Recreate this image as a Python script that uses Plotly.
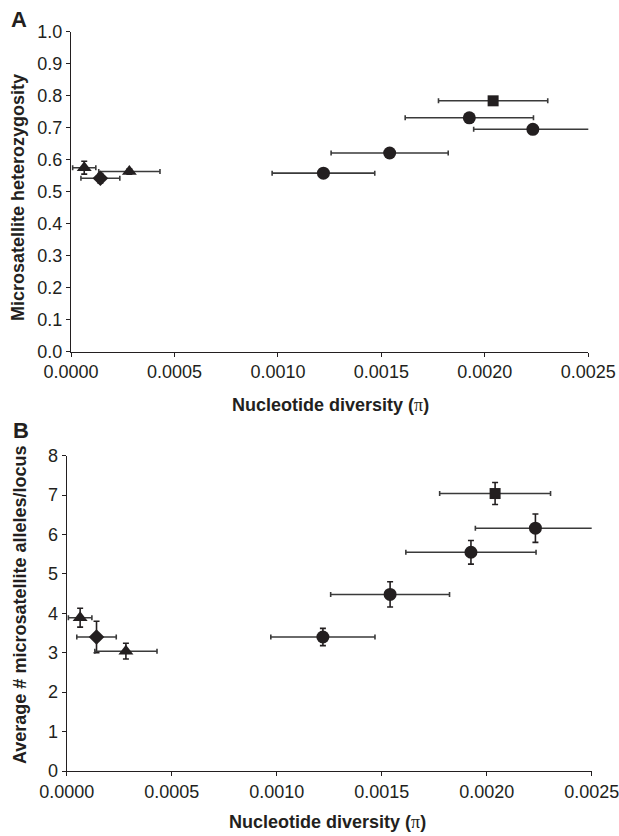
import plotly.graph_objects as go

# ---- data ----
groups = ["tri1", "diamond", "tri2", "circ_d", "circ_c", "circ_a", "square", "circ_b"]
symbols = ["triangle-up", "diamond", "triangle-up", "circle", "circle", "circle", "square", "circle"]
pi_vals = [0.000064, 0.000142, 0.000282, 0.00122, 0.00154, 0.001925, 0.00204, 0.002232]
pi_err = [0.000056, 0.000094, 0.000148, 0.000248, 0.000283, 0.00031, 0.000264, 0.000286]

het_vals = [0.575, 0.542, 0.563, 0.558, 0.621, 0.731, 0.784, 0.695]
het_err = [0.02, 0.015, 0.008, 0.008, 0.008, 0.008, 0.008, 0.008]

alleles_vals = [3.89, 3.40, 3.04, 3.40, 4.48, 5.55, 7.04, 6.16]
alleles_err = [0.24, 0.40, 0.20, 0.22, 0.32, 0.30, 0.28, 0.36]

x_ticks = [0.0, 0.0005, 0.0010, 0.0015, 0.0020, 0.0025]

# ---- style ----
W, H = 619, 836
ink = "#231f20"
bar_col = "#3a3a3a"
sizes = {"triangle-up": 13, "diamond": 12, "circle": 13, "square": 11}
msize = [sizes[s] for s in symbols]
tick_font = dict(family="Liberation Sans, Arial, sans-serif", size=18, color=ink)
title_font = dict(family="Liberation Sans, Arial, sans-serif", size=18, color=ink)


def px_x(p):
    return p / W


def px_y(p):
    return 1 - p / H


fig = go.Figure()
for xa, ya, yv, ye in [("x", "y", het_vals, het_err), ("x2", "y2", alleles_vals, alleles_err)]:
    # error bars first (drawn underneath)
    fig.add_trace(go.Scatter(
        x=pi_vals, y=yv, mode="markers", xaxis=xa, yaxis=ya,
        marker=dict(size=1, color="rgba(0,0,0,0)"),
        error_x=dict(type="data", array=pi_err, color=bar_col, thickness=1.6, width=2.5),
        error_y=dict(type="data", array=ye, color=ink, thickness=1.6, width=3),
        cliponaxis=False, showlegend=False, hoverinfo="skip",
    ))
    # markers on top
    fig.add_trace(go.Scatter(
        x=pi_vals, y=yv, mode="markers", xaxis=xa, yaxis=ya,
        marker=dict(symbol=symbols, size=msize, color=ink, opacity=1, line=dict(width=0)),
        cliponaxis=False, showlegend=False, hoverinfo="skip",
    ))

axis_common = dict(
    showline=True, linecolor=ink, linewidth=1.3, showgrid=False, zeroline=False,
    ticks="outside", ticklen=4, tickwidth=1.3, tickcolor=ink, tickfont=tick_font,
    automargin=False,
)

fig.update_layout(
    width=W, height=H,
    margin=dict(l=0, r=0, t=0, b=0),
    paper_bgcolor="white", plot_bgcolor="white",
    xaxis=dict(domain=[px_x(71), px_x(588.3)], range=[0, 0.0025], anchor="y",
               tickvals=x_ticks, tickformat=".4f", ticklabeloverflow="allow", **axis_common),
    yaxis=dict(domain=[px_y(351.7), px_y(31.7)], range=[0, 1.0], anchor="x",
               dtick=0.1, tick0=0, tickformat=".1f", **axis_common),
    xaxis2=dict(domain=[px_x(66.7), px_x(591.7)], range=[0, 0.0025], anchor="y2",
                tickvals=x_ticks, tickformat=".4f", ticklabeloverflow="allow", **axis_common),
    yaxis2=dict(domain=[px_y(771), px_y(455.7)], range=[0, 8], anchor="x2",
                dtick=1, tick0=0, **axis_common),
)

pi_txt = "Nucleotide diversity (<span style='font-family:Liberation Serif, Times New Roman, serif;font-weight:normal'>π</span>)"
annos = [
    dict(text="<b>A</b>", x=px_x(9), y=px_y(5), xanchor="left", yanchor="top", font=dict(size=22, color=ink, family="Liberation Sans, Arial")),
    dict(text="<b>B</b>", x=px_x(11), y=px_y(416), xanchor="left", yanchor="top", font=dict(size=22, color=ink, family="Liberation Sans, Arial")),
    dict(text="<b>Microsatellite heterozygosity</b>", x=px_x(18), y=px_y(198), textangle=-90,
         xanchor="center", yanchor="middle", font=title_font),
    dict(text="<b>Average # microsatellite alleles/locus</b>", x=px_x(20), y=px_y(605), textangle=-90,
         xanchor="center", yanchor="middle", font=title_font),
    dict(text="<b>" + pi_txt + "</b>", x=px_x(330), y=px_y(405), xanchor="center", yanchor="middle", font=title_font),
    dict(text="<b>" + pi_txt + "</b>", x=px_x(327), y=px_y(822), xanchor="center", yanchor="middle", font=title_font),
]
for a in annos:
    a.update(xref="paper", yref="paper", showarrow=False)
fig.update_layout(annotations=annos)

fig.write_html(
    "out.html",
    config={"displayModeBar": False},
    post_script="document.body.style.margin='0';document.body.style.overflow='hidden';",
)
